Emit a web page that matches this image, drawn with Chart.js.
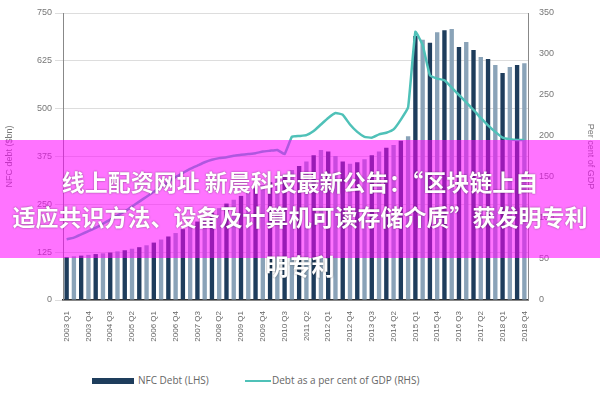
<!DOCTYPE html>
<html><head><meta charset="utf-8">
<script src="https://cdn.jsdelivr.net/npm/chart.js@4"></script>
<style>
body{margin:0;width:600px;height:400px;background:#fff;position:relative;overflow:hidden;font-family:"Open Sans",sans-serif}
#wrap{position:absolute;left:0;top:0;width:600px;height:362px}
#leg{position:absolute;top:373px;left:0;width:600px;font-size:10px;color:#666}
.band{position:absolute;left:0;top:140px;width:600px;height:118px;background:rgba(255,0,255,0.55)}
.t{position:absolute;left:-50px;width:700px;text-align:center;color:#fff;font-family:"Noto Sans CJK SC";font-weight:bold;font-size:23px;line-height:30px;white-space:nowrap;text-shadow:0 0 2px rgba(0,0,0,0.5)}
</style></head><body>
<div id="wrap"><canvas id="c"></canvas></div>
<div id="leg">
<span style="position:absolute;left:92px;top:5px;width:42px;height:6px;background:#1e3d5c"></span>
<span style="position:absolute;left:138px;top:0">NFC Debt (LHS)</span>
<span style="position:absolute;left:245px;top:7px;width:26px;height:2px;background:#4fc1b8"></span>
<span style="position:absolute;left:272px;top:0">Debt as a per cent of GDP (RHS)</span>
</div>
<div class="band"></div>
<div class="t" style="top:166px">线上配资网址 新晨科技最新公告：“区块链上自</div>
<div class="t" style="top:201px">适应共识方法、设备及计算机可读存储介质”获发明专利</div>
<div class="t" style="top:250px">明专利</div>
<script>
const categories=[];
for(let y=2003;y<=2018;y++)for(let q=1;q<=4;q++)categories.push(y+' Q'+q);
const debt=[112,114,116,118,120,122,124,127,130,134,138,143,150,158,166,175,185,195,205,215,228,240,252,262,272,282,292,300,308,318,328,340,350,362,378,392,388,376,362,356,360,368,378,388,398,405,416,428,
690,680,672,700,705,708,661,674,653,635,630,614,593,609,614,619];
const gdpPct=[74,76,80,84,88,93,98,103,108,114,120,126,132,138,144,150,155,160,164,168,171,173,174,176,177,178,179,181,182,183,178,199,200,201,206,214,222,228,226,214,205,199,198,202,204,208,220,235,
327,311,274,270,268,259,250,241,232,222,213,205,198,196,195,195];
const leftTicks=[0,125,250,375,500,625,750];
const rightTicks=[0,50,100,150,200,250,300,350];
new Chart(document.getElementById('c'),{
 data:{labels:categories,datasets:[
  {type:'line',data:gdpPct,yAxisID:'y2',borderColor:'#4fc1b8',borderWidth:2.5,pointRadius:0,tension:0.1,order:0},
  {type:'bar',data:debt,yAxisID:'y',backgroundColor:debt.map((v,i)=>i%2?'#8aa3b8':'#1e3d5c'),barPercentage:0.6,categoryPercentage:1,order:1}
 ]},
 options:{responsive:true,maintainAspectRatio:false,animation:false,
  layout:{padding:{top:13}},
  plugins:{legend:{display:false},tooltip:{enabled:false}},
  scales:{
   x:{grid:{display:false},border:{color:'#333',width:1.5},afterFit:s=>{s.height=62},
      ticks:{autoSkip:false,maxRotation:90,minRotation:90,font:{size:8},color:'#666',callback:(v,i)=>i%3===0?categories[i]:''}},
   y:{min:0,max:750,position:'left',afterFit:s=>{s.width=63},
      afterBuildTicks:s=>{s.ticks=leftTicks.map(v=>({value:v}))},
      grid:{color:'#ddd'},border:{color:'#888'},
      title:{display:true,text:'NFC debt ($bn)',color:'#777',font:{size:9}},
      ticks:{color:'#777',font:{size:9}}},
   y2:{min:0,max:350,position:'right',afterFit:s=>{s.width=72},
      afterBuildTicks:s=>{s.ticks=rightTicks.map(v=>({value:v}))},
      grid:{display:false},border:{color:'#888'},
      title:{display:true,text:'Per cent of GDP',color:'#777',font:{size:9}},
      ticks:{color:'#777',font:{size:9}}}
  }}
});
</script></body></html>
